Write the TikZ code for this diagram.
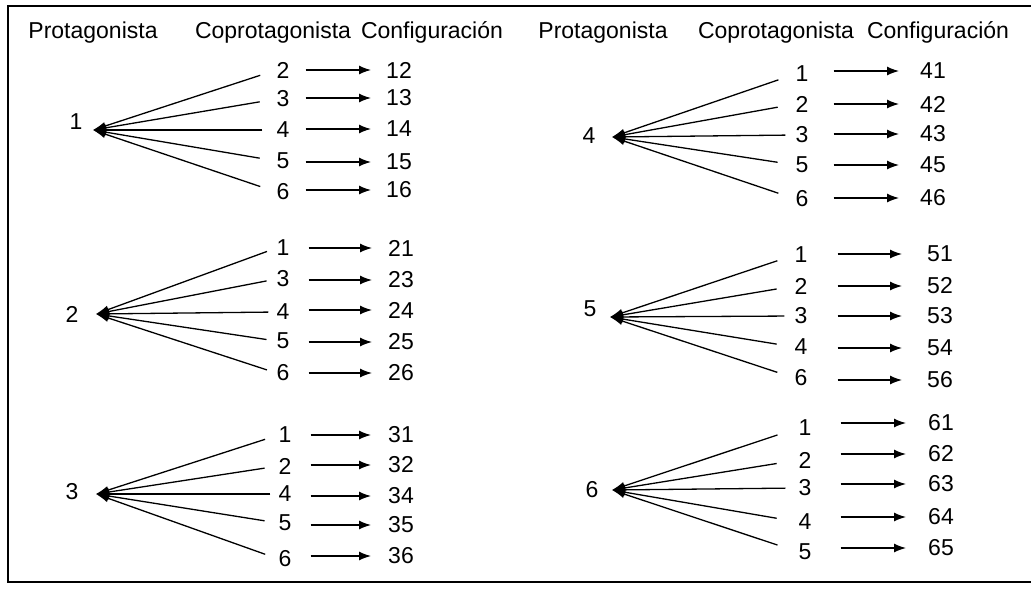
\documentclass[tikz,border=0pt]{standalone}
\usepackage{fontspec}
\setmainfont{Liberation Sans}
\usetikzlibrary{arrows.meta}
\begin{document}
\begin{tikzpicture}[x=1pt,y=-1pt,
  num/.style={inner sep=0pt, font=\fontsize{23}{26}\selectfont},
  head/.style={inner sep=0pt, anchor=base, font=\fontsize{23}{26}\selectfont},
  fan/.style={line width=1.3pt, -{Latex[length=13pt,width=8pt]}},
  arr/.style={line width=1.3pt, -{Latex[length=12pt,width=9pt]}},
  frame/.style={line width=2.5pt}]
\useasboundingbox (0,0) rectangle (1031,592);
\draw[frame] (1031,6) -- (8,6) -- (8,582) -- (1031,582);
% headers
\node[head] (hp1) at (93,38) {Protagonista};
\node[head] (hc1) at (273,38) {Coprotagonista};
\node[head] (hk1) at (432,38) {Configuración};
\node[head] (hp2) at (603,38) {Protagonista};
\node[head] (hc2) at (776,38) {Coprotagonista};
\node[head] (hk2) at (938,38) {Configuración};
% group 1
\node[num] (p1) at (76,122) {1};
\coordinate (t1) at (93,130);
\foreach \c/\cy/\ky/\s in {2/70/70/17pt, 3/99/98/17pt, 4/130/129/14pt, 5/161/162/17pt, 6/192/190/17pt} {
  \node[num] (g1c\c) at (283,\cy) {\c};
  \node[num] (g1k\c) at (399,\ky) {1\c};
  \draw[fan, shorten <=\s] (g1c\c.west) -- (t1);
  \draw[arr, shorten <=16pt, shorten >=15pt] (g1c\c.east |- g1k\c.west) -- (g1k\c.west);
}
% group 2
\node[num] (p2) at (72,314) {2};
\coordinate (t2) at (96,314);
\foreach \c/\cy/\ky/\s in {1/248/248/10pt, 3/279/280/10pt, 4/312/310/8pt, 5/341/342/10pt, 6/373/373/10pt} {
  \node[num] (g2c\c) at (283,\cy) {\c};
  \node[num] (g2k\c) at (401,\ky) {2\c};
  \draw[fan, shorten <=\s] (g2c\c.west) -- (t2);
  \draw[arr, shorten <=19pt, shorten >=16pt] (g2c\c.east |- g2k\c.west) -- (g2k\c.west);
}
% group 3
\node[num] (p3) at (72,492) {3};
\coordinate (t3) at (96,494);
\foreach \c/\cy/\ky/\s in {1/435/435/14pt, 2/466/465/14pt, 4/494/496/8pt, 5/523/525/14pt, 6/559/556/14pt} {
  \node[num] (g3c\c) at (285,\cy) {\c};
  \node[num] (g3k\c) at (401,\ky) {3\c};
  \draw[fan, shorten <=\s] (g3c\c.west) -- (t3);
  \draw[arr, shorten <=19pt, shorten >=17pt] (g3c\c.east |- g3k\c.west) -- (g3k\c.west);
}
% group 4
\node[num] (p4) at (589,136) {4};
\coordinate (t4) at (612,137);
\foreach \c/\cy/\ky/\s in {1/74/71/18pt, 2/104/104/18pt, 3/135/134/10pt, 5/165/165/18pt, 6/199/198/18pt} {
  \node[num] (g4c\c) at (802,\cy) {\c};
  \node[num] (g4k\c) at (933,\ky) {4\c};
  \draw[fan, shorten <=\s] (g4c\c.west) -- (t4);
  \draw[arr, shorten <=25pt, shorten >=21pt] (g4c\c.east |- g4k\c.west) -- (g4k\c.west);
}
% group 5
\node[num] (p5) at (590,309) {5};
\coordinate (t5) at (610,317);
\foreach \c/\cy/\ky/\s in {1/255/254/18pt, 2/286/286/18pt, 3/316/316/10pt, 4/347/348/18pt, 6/378/380/18pt} {
  \node[num] (g5c\c) at (801,\cy) {\c};
  \node[num] (g5k\c) at (940,\ky) {5\c};
  \draw[fan, shorten <=\s] (g5c\c.west) -- (t5);
  \draw[arr, shorten <=30pt, shorten >=25pt] (g5c\c.east |- g5k\c.west) -- (g5k\c.west);
}
% group 6
\node[num] (p6) at (592,490) {6};
\coordinate (t6) at (612,490);
\foreach \c/\cy/\ky/\s in {1/428/423/22pt, 2/460/454/22pt, 3/488/484/13pt, 4/522/517/22pt, 5/552/548/22pt} {
  \node[num] (g6c\c) at (805,\cy) {\c};
  \node[num] (g6k\c) at (941,\ky) {6\c};
  \draw[fan, shorten <=\s] (g6c\c.west) -- (t6);
  \draw[arr, shorten <=29pt, shorten >=22pt] (g6c\c.east |- g6k\c.west) -- (g6k\c.west);
}
\end{tikzpicture}
\end{document}
